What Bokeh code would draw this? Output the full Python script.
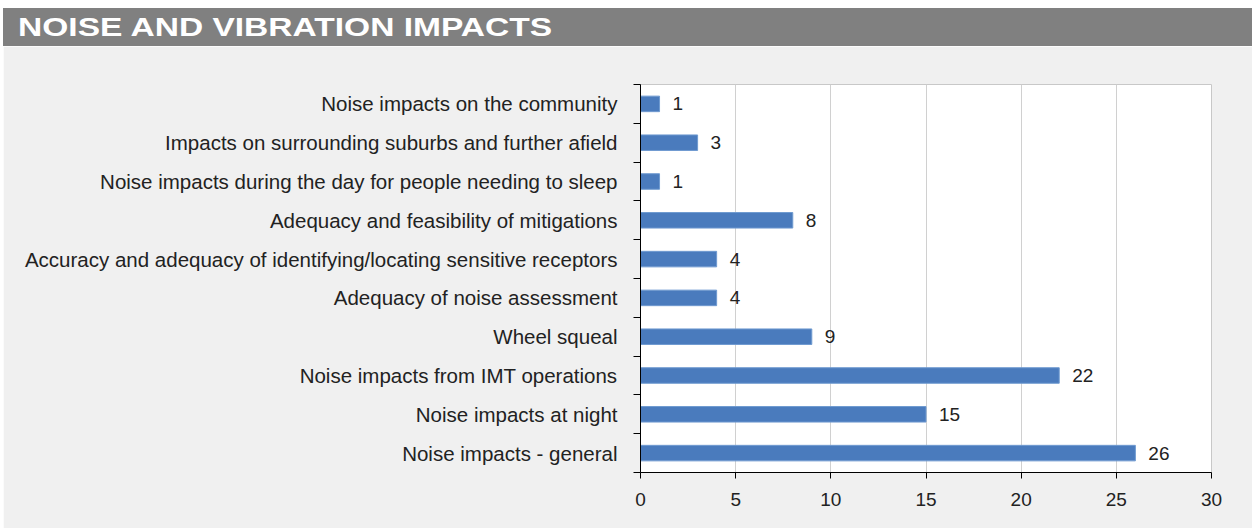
from bokeh.plotting import figure
from bokeh.models import Range1d, FixedTicker, Div, ColumnDataSource
from bokeh.layouts import column
from bokeh.embed import file_html
from bokeh.resources import INLINE

# Issues raised in submissions, listed top to bottom
categories = [
    "Noise impacts on the community",
    "Impacts on surrounding suburbs and further afield",
    "Noise impacts during the day for people needing to sleep",
    "Adequacy and feasibility of mitigations",
    "Accuracy and adequacy of identifying/locating sensitive receptors",
    "Adequacy of noise assessment",
    "Wheel squeal",
    "Noise impacts from IMT operations",
    "Noise impacts at night",
    "Noise impacts - general",
]
counts = [1, 3, 1, 8, 4, 4, 9, 22, 15, 26]
x_ticks = [0, 5, 10, 15, 20, 25, 30]

n = len(categories)
ypos = [n - 1 - i for i in range(n)]
source = ColumnDataSource(dict(y=ypos, v=counts, lab=[str(c) for c in counts]))

FONT = "Liberation Sans"

header = Div(
    text='<span style="display:inline-block;transform:scaleX(1.29);'
         'transform-origin:left center;">NOISE AND VIBRATION IMPACTS</span>',
    width=1249, height=38, margin=(8, 0, 0, 3),
    styles={
        "background-color": "#808080",
        "color": "white",
        "font-family": FONT,
        "font-weight": "bold",
        "font-size": "26px",
        "line-height": "38px",
        "padding-left": "15px",
        "box-sizing": "border-box",
        "width": "1249px",
        "height": "38px",
        "overflow": "hidden",
        "white-space": "nowrap",
    },
)

p = figure(
    width=1249, height=482,
    x_range=Range1d(0, 30), y_range=Range1d(-0.5, n - 0.5),
    output_backend="svg", toolbar_location=None,
    min_border_left=637, min_border_right=41,
    min_border_top=38, min_border_bottom=56,
    margin=(0, 0, 0, 3),
)
p.border_fill_color = "#f0f0f0"
p.background_fill_color = "white"
p.outline_line_color = "#c8c8c8"

p.hbar(y="y", right="v", left=0, height=0.4, source=source,
       fill_color="#4a7bbd", line_color="#6f9ad0", line_width=1)
p.text(x="v", y="y", text="lab", source=source, x_offset=13,
       text_baseline="middle", text_align="left",
       text_font_size="19px", text_color="#222222",
       text_font={"value": FONT})

# x axis
p.xaxis.ticker = FixedTicker(ticks=x_ticks)
p.xaxis.axis_line_color = "black"
p.xaxis.major_tick_line_color = "black"
p.xaxis.major_tick_out = 6
p.xaxis.major_tick_in = 0
p.xaxis.minor_tick_line_color = None
p.xaxis.major_label_text_font = FONT
p.xaxis.major_label_text_font_size = "19px"
p.xaxis.major_label_text_color = "#222222"
p.xaxis.major_label_standoff = 14

# y axis: labels at bar centres, tick marks between categories
p.yaxis.ticker = FixedTicker(ticks=ypos, minor_ticks=[k + 0.5 for k in range(-1, n)])
p.yaxis.major_label_overrides = {y: c for y, c in zip(ypos, categories)}
p.yaxis.axis_line_color = "black"
p.yaxis.major_tick_out = 0
p.yaxis.major_tick_in = 0
p.yaxis.minor_tick_out = 7
p.yaxis.minor_tick_in = 0
p.yaxis.minor_tick_line_color = "black"
p.yaxis.major_label_text_font = FONT
p.yaxis.major_label_text_font_size = "20.5px"
p.yaxis.major_label_text_color = "#222222"
p.yaxis.major_label_standoff = 16

p.xgrid.ticker = FixedTicker(ticks=x_ticks)
p.xgrid.grid_line_color = "#d0d0d0"
p.ygrid.grid_line_color = None

layout = column(header, p, spacing=0)
layout.styles = {"background-color": "white"}

open("out.html", "w").write(file_html(layout, INLINE))
